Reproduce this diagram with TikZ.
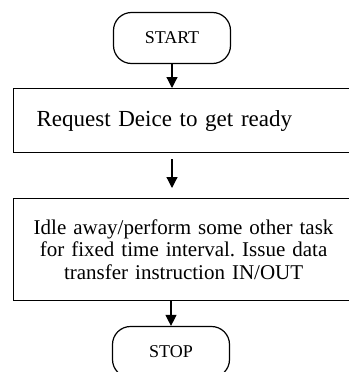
\documentclass[tikz,border=0pt]{standalone}
\usepackage{fontspec}
\setmainfont{Liberation Serif}
\usetikzlibrary{arrows.meta,positioning}

\tikzset{
  term/.style={draw,rounded corners=18pt,minimum width=117pt,minimum height=51pt,
    font=\fontsize{18}{20}\selectfont},
  procbox/.style={draw,anchor=north west,inner xsep=10pt,text width=320pt},
}

\begin{document}
\frenchspacing
\begin{tikzpicture}[x=1pt,y=1pt,>={Triangle[length=11pt,width=11pt]},line width=1.2pt]
  \useasboundingbox (0,0) rectangle (348,-372);
  \node[term] (start) at (172,-38) {START};
  \node[procbox,minimum height=64pt,align=left,inner xsep=23pt,text width=294pt,
    font=\fontsize{23}{26}\selectfont] (req) at (13,-88)
    {Request Deice to get ready};
  \node[procbox,minimum height=102pt,align=center,font=\fontsize{21}{22.5}\selectfont] (idle) at (13,-198)
    {Idle away/perform some other task\\for fixed time interval. Issue data\\transfer instruction IN/OUT};
  \node[term] (stop) at (171,-352) {STOP};
  \draw[->] (start.south) -- (start.south |- req.north);
  \draw[->,shorten <=6pt,shorten >=10pt] (start.south |- req.south) -- (start.south |- idle.north);
  \draw[->] (stop.north |- idle.south) -- (stop.north);
\end{tikzpicture}
\end{document}
